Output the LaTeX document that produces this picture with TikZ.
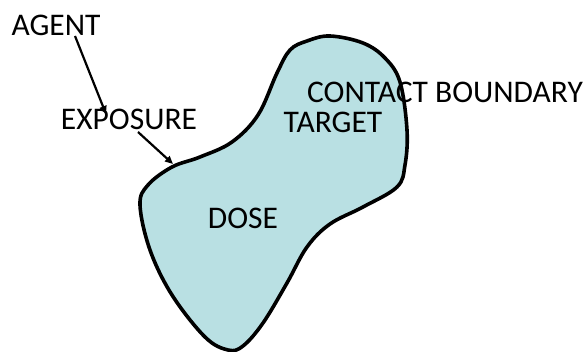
\documentclass[tikz,border=0pt]{standalone}
\usepackage{fontspec}
\setmainfont{Carlito}
\usetikzlibrary{arrows.meta}
\definecolor{blobfill}{RGB}{185,224,227}
\tikzset{
  lbl/.style={inner sep=0pt, font=\fontsize{31.5}{36}\selectfont, text=black},
  conn/.style={line width=2.2pt, -{Triangle[length=8pt,width=7pt]}},
  blob/.style={line width=3.6pt, draw=black, fill=blobfill}
}
\begin{document}
\begin{tikzpicture}[x=1pt,y=-1pt]
\useasboundingbox (0,0) rectangle (587,352);
\draw[blob] plot[smooth cycle, tension=0.6] coordinates {
 (330,36) (363,43) (385,58) (400,82) (407,130) (405,165) (397,187)
 (363,207) (330,224) (307,247) (287,283) (263,323) (243,346) (228,350)
 (205,337) (172,295) (150,250) (140,205) (148,185) (172,167) (200,157)
 (232,142) (258,115) (277,73) (290,50) (307,41)};
\node[lbl, anchor=base] (contact) at (445,103) {CONTACT BOUNDARY};
\node[lbl, anchor=north] (target) at (333,112) {TARGET};
\node[lbl] (agent) at (56,25) {AGENT};
\node[lbl] (exposure) at (129,119) {EXPOSURE};
\node[lbl] (dose) at (243,218) {DOSE};
\coordinate (a1) at (75,36);
\coordinate (a2) at (106,114);
\coordinate (e1) at (138,132);
\coordinate (e2) at (173,164);
\draw[conn] (a1) -- (a2);
\draw[conn] (e1) -- (e2);
\end{tikzpicture}
\end{document}
